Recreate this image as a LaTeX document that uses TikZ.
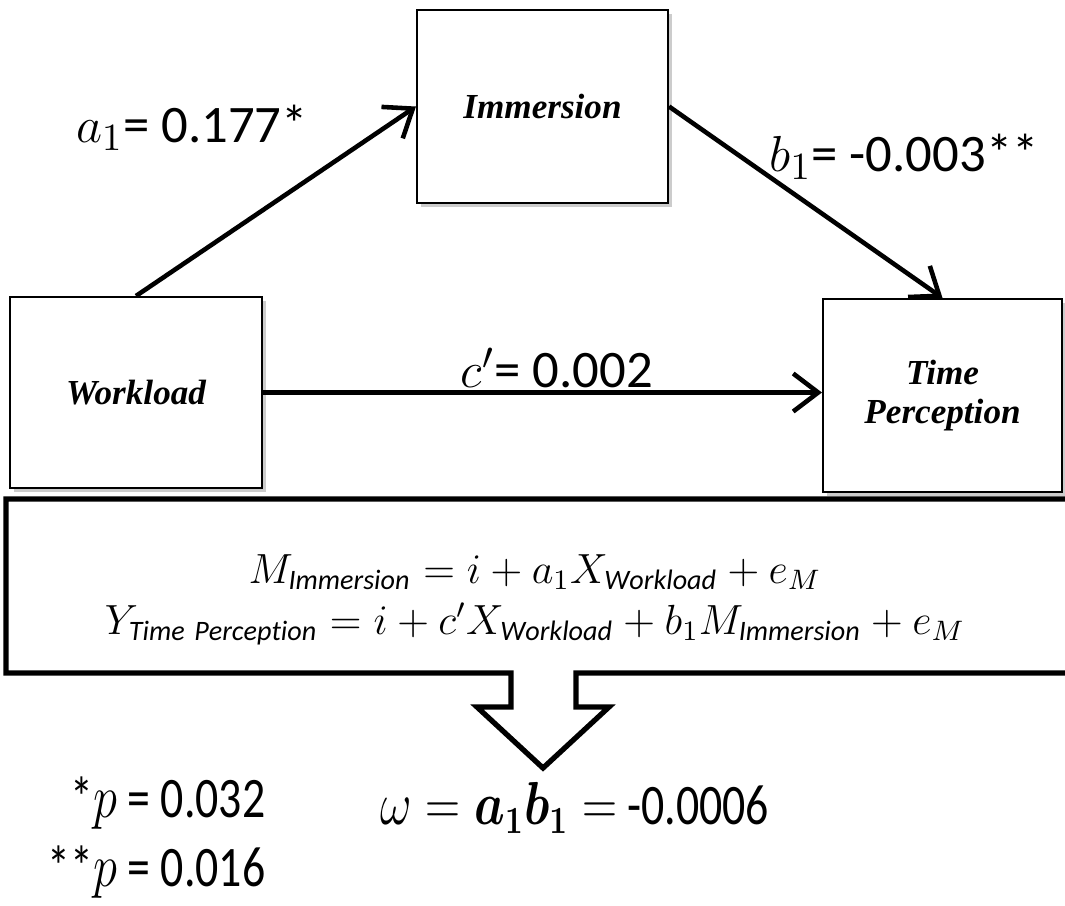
\documentclass[tikz,border=0pt]{standalone}
\usepackage{amsmath}
\usepackage{fontspec}
\setmainfont{Carlito}
\newfontfamily\boxfont{Liberation Serif}
\usetikzlibrary{arrows.meta,shadows}

\begin{document}
\begin{tikzpicture}[x=0.1mm, y=-0.1mm,
  varbox/.style={draw, line width=0.6pt, fill=white, inner sep=0pt, align=center,
    font=\boxfont\bfseries\itshape\fontsize{10}{11}\selectfont,
    drop shadow={shadow xshift=1pt, shadow yshift=-1.2pt, fill=black!40, opacity=0.5}},
  effect/.style={-{Straight Barb[length=2.5mm,width=3.8mm]}, line width=1.3pt},
  coef/.style={font=\fontsize{15}{18}\selectfont},
  eqline/.style={font=\fontsize{12}{14}\selectfont},
  pval/.style={font=\fontsize{16.3}{19}\selectfont, inner sep=0pt}]

  % fix the page to the reference size
  \useasboundingbox (0,0) rectangle (1065,905);

  % the three variables
  \node[varbox, minimum width=25.2mm, minimum height=19.1mm] (work) at (136,392.5) {Workload};
  \node[varbox, minimum width=25.1mm, minimum height=19.3mm] (imm) at (542.5,106.5) {Immersion};
  \node[varbox, minimum width=23.9mm, minimum height=19.3mm] (tp) at (942.5,395.5) {Time\\Perception};

  % paths a, b and c'
  \draw[effect] (work.north) -- (imm.west);
  \draw[effect] (imm.east) -- (tp.north);
  \draw[effect] (work.east) -- (work.east -| tp.west);

  \node[coef] (alab) at (192,128) {$a_1$= 0.177*};
  \node[coef] (blab) at (904,157) {$b_1$= -0.003**};
  \node[coef] (clab) at (557,368) {$c'$= 0.002};

  % box of the regression equations with the arrow below
  \draw[line width=1.5pt] (1080,499) -- (6,499) -- (6,673) -- (511,673) -- (511,707)
    -- (477,707) -- (543,768) -- (609,707) -- (576,707) -- (576,673) -- (1080,673);

  \node[eqline] (eqm) at (535,572)
    {$M_{\mathit{Immersion}} = i + a_1X_{\mathit{Workload}} + e_M$};
  \node[eqline] (eqy) at (535,624)
    {$Y_{\mathit{Time\ Perception}} = i + c'X_{\mathit{Workload}} + b_1M_{\mathit{Immersion}} + e_M$};

  % indirect effect and p values (narrow type)
  \node[pval] (omega) at (575,808) {\scalebox{0.8}[1]{$\omega = \boldsymbol{a_1b_1} =$ -0.0006}};
  \node[pval, anchor=east] (pa) at (266,803) {\scalebox{0.8}[1]{*$p$ = 0.032}};
  \node[pval, anchor=east] (pb) at (266,872) {\scalebox{0.8}[1]{**$p$ = 0.016}};

\end{tikzpicture}
\end{document}
